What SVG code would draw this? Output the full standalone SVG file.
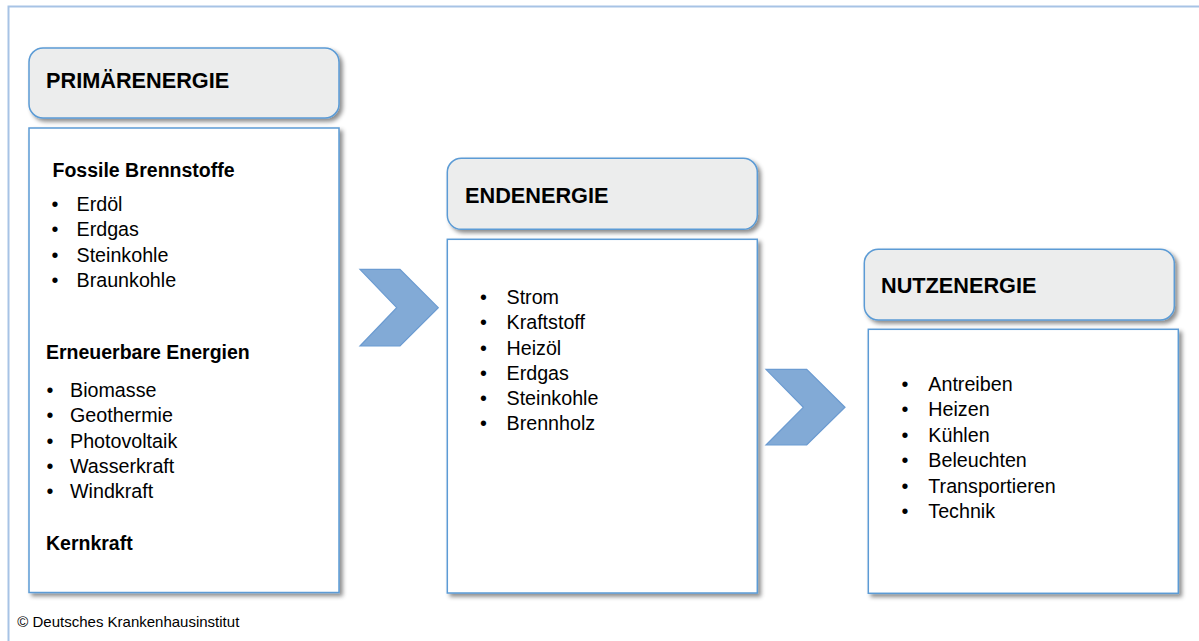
<svg xmlns="http://www.w3.org/2000/svg" width="1199" height="641" viewBox="0 0 1199 641">
<defs>
<filter id="sh" x="-10%" y="-10%" width="130%" height="130%">
<feDropShadow dx="3" dy="3" stdDeviation="2" flood-color="#000" flood-opacity="0.45"/>
</filter>
<style>
.frame{fill:none;stroke:#a7c3e5;stroke-width:2}
.hdr{fill:#eceded;stroke:#5b9bd5;stroke-width:1.5;filter:url(#sh)}
.body{fill:#fff;stroke:#5b9bd5;stroke-width:1.5;filter:url(#sh)}
.ht{font-family:"Liberation Sans",Arial,sans-serif;font-weight:bold;font-size:21.7px;fill:#000}
.sub{font-family:"Liberation Sans",Arial,sans-serif;font-weight:bold;font-size:19.5px;fill:#000}
.li{font-family:"Liberation Sans",Arial,sans-serif;font-size:19.7px;fill:#000}
.chev{fill:#82aad6;stroke:#6b9bd1;stroke-width:1.2}
.copy{font-family:"Liberation Sans",Arial,sans-serif;font-size:15px;fill:#000}
</style>
</defs>
<rect x="0" y="0" width="1199" height="641" fill="#fff"/>
<rect class="frame" x="8.5" y="6.5" width="1200" height="650"/>

<g id="primaerenergie">
<rect class="hdr" x="29" y="48" width="310" height="70" rx="14"/>
<text class="ht" x="46" y="87.5">PRIMÄRENERGIE</text>
<rect class="body" x="29" y="128" width="310" height="464.5"/>
<text class="sub" x="52.5" y="176.7">Fossile Brennstoffe</text>
<g class="li">
<text x="51.5" y="210.7">•</text><text x="76.5" y="210.7">Erdöl</text>
<text x="51.5" y="236.2">•</text><text x="76.5" y="236.2">Erdgas</text>
<text x="51.5" y="261.7">•</text><text x="76.5" y="261.7">Steinkohle</text>
<text x="51.5" y="287.2">•</text><text x="76.5" y="287.2">Braunkohle</text>
</g>
<text class="sub" x="46" y="359.3">Erneuerbare Energien</text>
<g class="li">
<text x="46.5" y="396.7">•</text><text x="70" y="396.7">Biomasse</text>
<text x="46.5" y="422.2">•</text><text x="70" y="422.2">Geothermie</text>
<text x="46.5" y="447.5">•</text><text x="70" y="447.5">Photovoltaik</text>
<text x="46.5" y="473.1">•</text><text x="70" y="473.1">Wasserkraft</text>
<text x="46.5" y="498.4">•</text><text x="70" y="498.4">Windkraft</text>
</g>
<text class="sub" x="46" y="550">Kernkraft</text>
</g>

<g id="endenergie">
<rect class="hdr" x="447.3" y="158.3" width="310" height="71" rx="14"/>
<text class="ht" x="465" y="202.7">ENDENERGIE</text>
<rect class="body" x="447.3" y="239.3" width="310" height="353.7"/>
<g class="li">
<text x="480" y="304">•</text><text x="506.5" y="304">Strom</text>
<text x="480" y="329.3">•</text><text x="506.5" y="329.3">Kraftstoff</text>
<text x="480" y="354.5">•</text><text x="506.5" y="354.5">Heizöl</text>
<text x="480" y="379.8">•</text><text x="506.5" y="379.8">Erdgas</text>
<text x="480" y="405">•</text><text x="506.5" y="405">Steinkohle</text>
<text x="480" y="430.3">•</text><text x="506.5" y="430.3">Brennholz</text>
</g>
</g>

<g id="nutzenergie">
<rect class="hdr" x="864.3" y="249.3" width="310" height="70.7" rx="14"/>
<text class="ht" x="881" y="293.3">NUTZENERGIE</text>
<rect class="body" x="868.3" y="329.3" width="310" height="264"/>
<g class="li">
<text x="901.5" y="390.7">•</text><text x="928.3" y="390.7">Antreiben</text>
<text x="901.5" y="416">•</text><text x="928.3" y="416">Heizen</text>
<text x="901.5" y="441.5">•</text><text x="928.3" y="441.5">Kühlen</text>
<text x="901.5" y="467">•</text><text x="928.3" y="467">Beleuchten</text>
<text x="901.5" y="492.5">•</text><text x="928.3" y="492.5">Transportieren</text>
<text x="901.5" y="517.5">•</text><text x="928.3" y="517.5">Technik</text>
</g>
</g>

<g id="connectors">
<polygon class="chev" points="360,269.3 400,269.3 438.3,307.7 400,346 360,346 396.7,307.7"/>
<polygon class="chev" points="766,369.3 806.7,369.3 845,407.3 806.7,445 766,445 803.3,407.3"/>
</g>

<text class="copy" x="17.3" y="626.7">© Deutsches Krankenhausinstitut</text>
</svg>
